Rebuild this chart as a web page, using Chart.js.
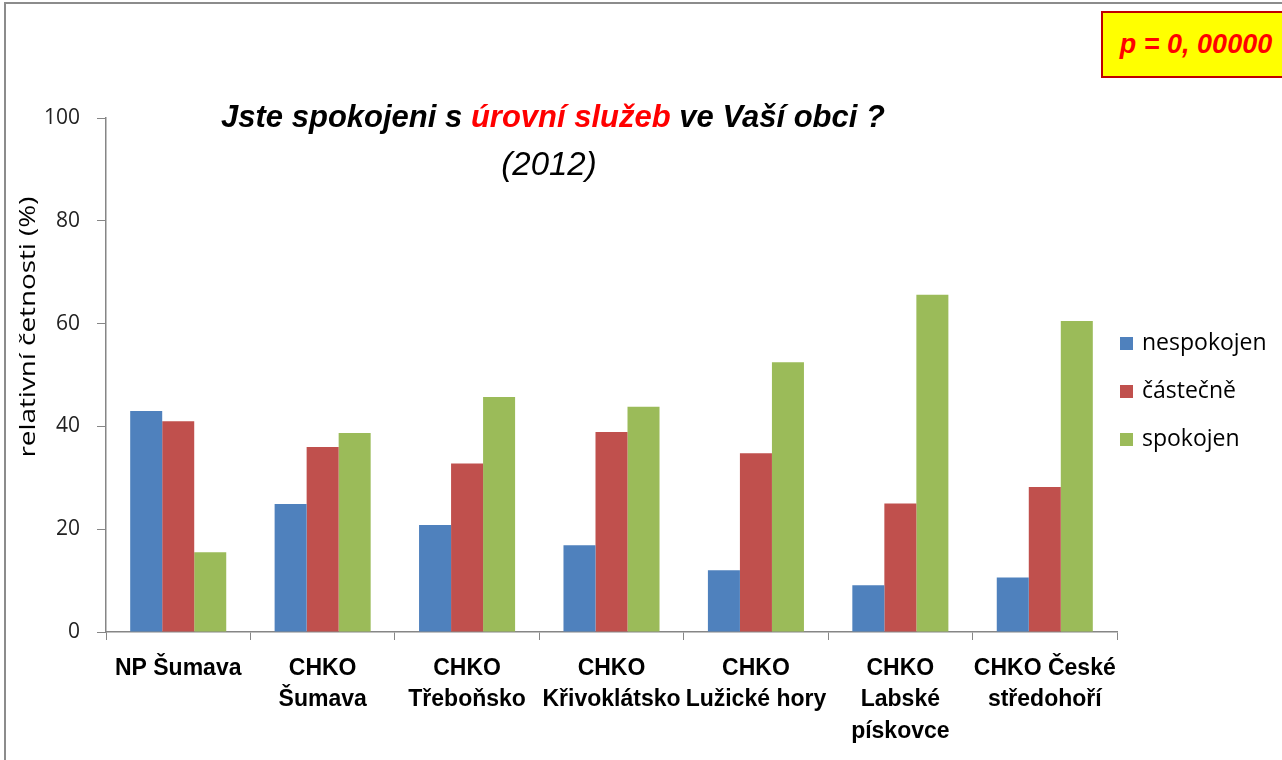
<!DOCTYPE html>
<html>
<head>
<meta charset="utf-8">
<script src="https://cdn.jsdelivr.net/npm/chart.js@4.4.0/dist/chart.umd.min.js"></script>
<style>
body { margin: 0; background: #fff; }
#wrap { position: relative; width: 1282px; height: 760px; overflow: hidden; background: #fff; }
#ramecek { position: absolute; left: 4px; top: 2px; width: 1400px; height: 900px;
  border-left: 2px solid #8c8c8c; border-top: 2px solid #8c8c8c; }
#graf { position: absolute; left: 0; top: 0; }
#nadpis { position: absolute; left: 0; top: 99px; width: 1106px; text-align: center;
  font: italic bold 31px "Liberation Sans", Arial, sans-serif; color: #000; }
#nadpis .cervena { color: #ff0000; }
#rok { position: absolute; left: 0; top: 145px; width: 1098px; text-align: center;
  font: italic 33px "Liberation Sans", Arial, sans-serif; color: #000; }
#pbox { position: absolute; left: 1101px; top: 11px; width: 186px; height: 63px;
  background: #ffff00; border: 2px solid #c00000; text-align: center;
  font: italic bold 27px "Liberation Sans", Arial, sans-serif; line-height: 63px; color: #ff0000; }
</style>
</head>
<body>
<div id="wrap">
  <div id="ramecek"></div>
  <canvas id="graf" width="1282" height="760"></canvas>
  <div id="nadpis">Jste spokojeni s <span class="cervena">úrovní služeb</span> ve Vaší obci ?</div>
  <div id="rok">(2012)</div>
  <div id="pbox">p = 0, 00000</div>
</div>
<script>
// data
var oblasti = [
  ['NP Šumava'],
  ['CHKO', 'Šumava'],
  ['CHKO', 'Třeboňsko'],
  ['CHKO', 'Křivoklátsko'],
  ['CHKO', 'Lužické hory'],
  ['CHKO', 'Labské', 'pískovce'],
  ['CHKO České', 'středohoří']
];
var nespokojen = [43.0, 24.9, 20.8, 16.9, 12.0, 9.1, 10.6];
var castecne = [41.0, 36.0, 32.8, 38.9, 34.8, 25.0, 28.2];
var spokojen = [15.5, 38.7, 45.7, 43.8, 52.5, 65.6, 60.5];
var nazvyRad = ['nespokojen', 'částečně', 'spokojen'];
var barvy = ['#4f81bd', '#c0504d', '#9bbb59'];
var osaYTicky = [0, 20, 40, 60, 80, 100];

var pismo = '"Open Sans", "Liberation Sans", sans-serif';

// vlastni legenda a popisek osy Y
var doplnky = {
  id: 'doplnky',
  afterDraw: function (chart) {
    var ctx = chart.ctx;
    var ca = chart.chartArea;
    ctx.save();
    ctx.font = '23px ' + pismo;
    ctx.textBaseline = 'middle';
    ctx.textAlign = 'left';
    chart.data.datasets.forEach(function (ds, i) {
      var y = 343 + i * 48;
      ctx.fillStyle = ds.backgroundColor;
      ctx.fillRect(ca.right + 3, y - 6, 13, 13);
      ctx.fillStyle = '#000';
      ctx.fillText(ds.label, ca.right + 25, y);
    });
    // popisek osy Y, natazeny na delku jako v predloze
    var text = 'relativní četnosti (%)';
    ctx.font = '21px ' + pismo;
    var w = ctx.measureText(text).width;
    ctx.translate(29, 327);
    ctx.rotate(-Math.PI / 2);
    ctx.scale(261 / w, 1);
    ctx.textAlign = 'center';
    ctx.fillText(text, 0, 0);
    ctx.restore();
  }
};

var ctx = document.getElementById('graf').getContext('2d');
var myChart = new Chart(ctx, {
  type: 'bar',
  data: {
    labels: oblasti,
    datasets: [
      { label: nazvyRad[0], data: nespokojen, backgroundColor: barvy[0] },
      { label: nazvyRad[1], data: castecne, backgroundColor: barvy[1] },
      { label: nazvyRad[2], data: spokojen, backgroundColor: barvy[2] }
    ]
  },
  options: {
    responsive: false,
    animation: false,
    layout: { padding: { top: 118, right: 165, left: 0, bottom: 0 } },
    datasets: { bar: { categoryPercentage: 0.665, barPercentage: 1.0 } },
    plugins: { legend: { display: false }, tooltip: { enabled: false } },
    scales: {
      x: {
        grid: { drawOnChartArea: false, drawTicks: true, tickLength: 8, offset: true, color: '#868686' },
        border: { color: '#868686', width: 1.5 },
        ticks: {
          autoSkip: false, maxRotation: 0, minRotation: 0, padding: 13, color: '#000',
          font: { family: '"Liberation Sans Narrow", "Liberation Sans", sans-serif', size: 23, weight: 'bold', lineHeight: 1.36 }
        },
        afterFit: function (s) { s.height = 760 - 632; }
      },
      y: {
        min: 0, max: 100,
        afterBuildTicks: function (s) { s.ticks = osaYTicky.map(function (v) { return { value: v }; }); },
        grid: { drawOnChartArea: false, drawTicks: true, tickLength: 9, color: '#868686' },
        border: { color: '#868686', width: 1.5 },
        ticks: { padding: 17, color: '#222', font: { family: pismo, size: 21 } },
        afterFit: function (s) { s.width = 106; }
      }
    }
  },
  plugins: [doplnky]
});
</script>
</body>
</html>
